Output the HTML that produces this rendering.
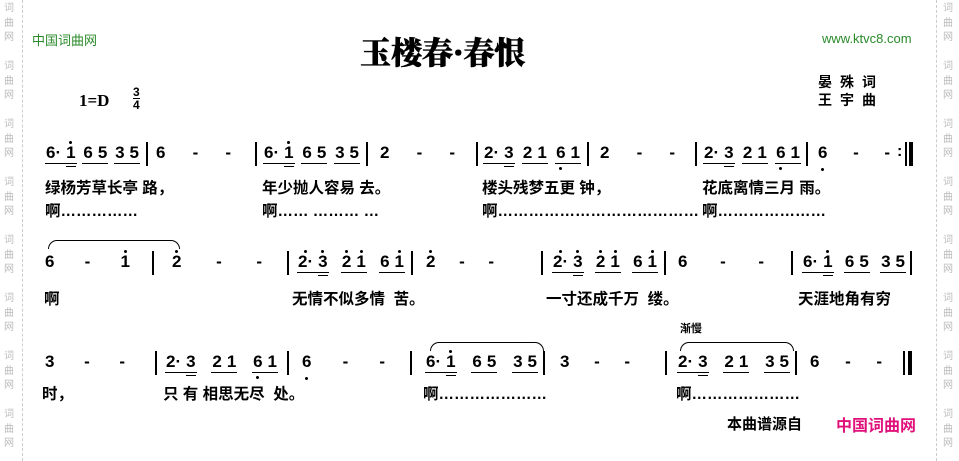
<!DOCTYPE html>
<html><head><meta charset="utf-8"><style>
body{margin:0;width:959px;height:461px;background:#fff;position:relative;overflow:hidden;font-family:"Liberation Sans","Noto Sans CJK SC",sans-serif;color:#000}
.a{position:absolute;white-space:nowrap}
.m{position:absolute;display:flex;justify-content:space-between;font-weight:bold;font-size:17px;height:20px;line-height:18px}
.g{border-bottom:1.8px solid #000;display:flex;gap:5px;padding:0 1px}
.n{position:relative;display:inline-block}
.h::before{content:"";position:absolute;left:50%;top:-3px;width:3px;height:3px;margin-left:-1.5px;background:#000;border-radius:50%}
.l::after{content:"";position:absolute;left:50%;bottom:-7px;width:3px;height:3px;margin-left:-1.5px;background:#000;border-radius:50%}
.u2{border-bottom:1.8px solid #000;margin-bottom:-4px;padding-bottom:1px}
.bar{position:absolute;width:2px;background:#000;height:24px}
.ly{position:absolute;font-size:15.5px;font-weight:bold;white-space:nowrap}
.tie{position:absolute;border:1.5px solid #000;border-bottom:none;border-radius:12px 12px 0 0;height:8px}
.wm{position:absolute;font-size:10px;color:#bbb;line-height:14.5px;width:12px;text-align:center}
.dl{position:absolute;top:0;height:461px;border-left:1px dashed #ccc}
</style></head><body>
<div class="dl" style="left:22px"></div><div class="dl" style="left:936px"></div>
<div class="wm" style="left:3px;top:2px">词<br>曲<br>网<br><br>词<br>曲<br>网<br><br>词<br>曲<br>网<br><br>词<br>曲<br>网<br><br>词<br>曲<br>网<br><br>词<br>曲<br>网<br><br>词<br>曲<br>网<br><br>词<br>曲<br>网</div>
<div class="wm" style="left:942px;top:2px">词<br>曲<br>网<br><br>词<br>曲<br>网<br><br>词<br>曲<br>网<br><br>词<br>曲<br>网<br><br>词<br>曲<br>网<br><br>词<br>曲<br>网<br><br>词<br>曲<br>网<br><br>词<br>曲<br>网</div>

<div class="a" style="left:32px;top:30px;font-size:13px;color:#2a8a2a">中国词曲网</div>
<div class="a" style="left:822px;top:31px;font-size:13px;color:#2a8a2a">www.ktvc8.com</div>
<div class="a" style="left:360px;top:28px;font-size:31px;font-weight:900;font-family:'Noto Serif CJK SC',serif;-webkit-text-stroke:0.6px #000">玉楼春·春恨</div>
<div class="a" style="left:818px;top:72px;font-size:14px;font-weight:bold;letter-spacing:8px">晏殊词</div>
<div class="a" style="left:818px;top:90px;font-size:14px;font-weight:bold;letter-spacing:8px">王宇曲</div>
<div class="a" style="left:79px;top:91px;font-size:17px;font-weight:bold;font-family:'Liberation Serif',serif">1=D</div>
<div class="a" style="left:133px;top:86px;font-size:12px;font-weight:bold;line-height:12px;text-align:center">3<br><span style="border-top:1.5px solid #000;display:inline-block">4</span></div>

<!-- row1 -->
<div class="m" style="left:45px;top:144px;width:95px"><span class="g"><span class="n">6·</span><span class="n h u2">1</span></span><span class="g"><span>6</span><span>5</span></span><span class="g"><span>3</span><span>5</span></span></div>
<div class="bar" style="left:146px;top:142px"></div>
<div class="m" style="left:156px;top:144px;width:75px"><span>6</span><span>-</span><span>-</span></div>
<div class="bar" style="left:255px;top:142px"></div>
<div class="m" style="left:263px;top:144px;width:97px"><span class="g"><span class="n">6·</span><span class="n h u2">1</span></span><span class="g"><span>6</span><span>5</span></span><span class="g"><span>3</span><span>5</span></span></div>
<div class="bar" style="left:366px;top:142px"></div>
<div class="m" style="left:380px;top:144px;width:75px"><span>2</span><span>-</span><span>-</span></div>
<div class="bar" style="left:476px;top:142px"></div>
<div class="m" style="left:483px;top:144px;width:98px"><span class="g"><span class="n">2·</span><span class="n u2">3</span></span><span class="g"><span>2</span><span>1</span></span><span class="g"><span class="n l">6</span><span>1</span></span></div>
<div class="bar" style="left:587px;top:142px"></div>
<div class="m" style="left:600px;top:144px;width:75px"><span>2</span><span>-</span><span>-</span></div>
<div class="bar" style="left:695px;top:142px"></div>
<div class="m" style="left:703px;top:144px;width:98px"><span class="g"><span class="n">2·</span><span class="n u2">3</span></span><span class="g"><span>2</span><span>1</span></span><span class="g"><span class="n l">6</span><span>1</span></span></div>
<div class="bar" style="left:806px;top:142px"></div>
<div class="m" style="left:818px;top:144px;width:72px"><span class="n l">6</span><span>-</span><span>-</span></div>
<div class="a" style="left:897px;top:143px;font-weight:bold;font-size:16px">:</div>
<div class="bar" style="left:905px;top:142px;width:1.5px"></div><div class="bar" style="left:909px;top:142px;width:4px"></div>
<div class="ly" style="left:45px;top:176px">绿杨芳草长亭 路，</div>
<div class="ly" style="left:262px;top:176px">年少抛人容易 去。</div>
<div class="ly" style="left:482px;top:176px">楼头残梦五更 钟，</div>
<div class="ly" style="left:702px;top:176px">花底离情三月 雨。</div>
<div class="ly" style="left:45px;top:199px">啊……………</div>
<div class="ly" style="left:262px;top:199px">啊…… ……… …</div>
<div class="ly" style="left:482px;top:199px">啊…………………………………</div>
<div class="ly" style="left:702px;top:199px">啊…………………</div>

<!-- row2 -->
<div class="tie" style="left:48px;top:240px;width:130px"></div>
<div class="m" style="left:45px;top:253px;width:85px"><span>6</span><span>-</span><span class="n h">1</span></div>
<div class="bar" style="left:152px;top:251px"></div>
<div class="m" style="left:172px;top:253px;width:90px"><span class="n h">2</span><span>-</span><span>-</span></div>
<div class="bar" style="left:287px;top:251px"></div>
<div class="m" style="left:297px;top:253px;width:108px"><span class="g"><span class="n h">2·</span><span class="n h u2">3</span></span><span class="g"><span class="n h">2</span><span class="n h">1</span></span><span class="g"><span>6</span><span class="n h">1</span></span></div>
<div class="bar" style="left:411px;top:251px"></div>
<div class="m" style="left:426px;top:253px;width:68px"><span class="n h">2</span><span>-</span><span>-</span></div>
<div class="bar" style="left:541px;top:251px"></div>
<div class="m" style="left:552px;top:253px;width:106px"><span class="g"><span class="n h">2·</span><span class="n h u2">3</span></span><span class="g"><span class="n h">2</span><span class="n h">1</span></span><span class="g"><span>6</span><span class="n h">1</span></span></div>
<div class="bar" style="left:664px;top:251px"></div>
<div class="m" style="left:678px;top:253px;width:86px"><span>6</span><span>-</span><span>-</span></div>
<div class="bar" style="left:791px;top:251px"></div>
<div class="m" style="left:802px;top:253px;width:104px"><span class="g"><span class="n">6·</span><span class="n h u2">1</span></span><span class="g"><span>6</span><span>5</span></span><span class="g"><span>3</span><span>5</span></span></div>
<div class="bar" style="left:910px;top:251px"></div>
<div class="ly" style="left:44px;top:287px">啊</div>
<div class="ly" style="left:292px;top:287px">无情不似多情 &nbsp;苦。</div>
<div class="ly" style="left:546px;top:287px">一寸还成千万 &nbsp;缕。</div>
<div class="ly" style="left:798px;top:287px">天涯地角有穷</div>

<!-- row3 -->
<div class="a" style="left:680px;top:320px;font-size:11px;font-weight:bold">渐慢</div>
<div class="tie" style="left:430px;top:342px;width:112px"></div>
<div class="tie" style="left:680px;top:342px;width:112px"></div>
<div class="m" style="left:45px;top:353px;width:80px"><span>3</span><span>-</span><span>-</span></div>
<div class="bar" style="left:155px;top:351px"></div>
<div class="m" style="left:165px;top:353px;width:113px"><span class="g"><span class="n">2·</span><span class="n u2">3</span></span><span class="g"><span>2</span><span>1</span></span><span class="g"><span class="n l">6</span><span>1</span></span></div>
<div class="bar" style="left:287px;top:351px"></div>
<div class="m" style="left:302px;top:353px;width:83px"><span class="n l">6</span><span>-</span><span>-</span></div>
<div class="bar" style="left:410px;top:351px"></div>
<div class="m" style="left:425px;top:353px;width:113px"><span class="g"><span class="n">6·</span><span class="n h u2">1</span></span><span class="g"><span>6</span><span>5</span></span><span class="g"><span>3</span><span>5</span></span></div>
<div class="bar" style="left:543px;top:351px"></div>
<div class="m" style="left:560px;top:353px;width:70px"><span>3</span><span>-</span><span>-</span></div>
<div class="bar" style="left:665px;top:351px"></div>
<div class="m" style="left:677px;top:353px;width:113px"><span class="g"><span class="n">2·</span><span class="n u2">3</span></span><span class="g"><span>2</span><span>1</span></span><span class="g"><span>3</span><span>5</span></span></div>
<div class="bar" style="left:795px;top:351px"></div>
<div class="m" style="left:810px;top:353px;width:72px"><span>6</span><span>-</span><span>-</span></div>
<div class="bar" style="left:903px;top:351px;width:1.5px"></div><div class="bar" style="left:908px;top:351px;width:4px"></div>
<div class="ly" style="left:42px;top:382px">时，</div>
<div class="ly" style="left:163px;top:382px">只 有 相思无尽 &nbsp;处。</div>
<div class="ly" style="left:423px;top:382px">啊…………………</div>
<div class="ly" style="left:676px;top:382px">啊…………………</div>

<div class="a" style="left:727px;top:413px;font-size:15px;font-weight:bold">本曲谱源自</div>
<div class="a" style="left:836px;top:412px;font-size:16px;font-weight:bold;color:#e0107a">中国词曲网</div>
</body></html>
